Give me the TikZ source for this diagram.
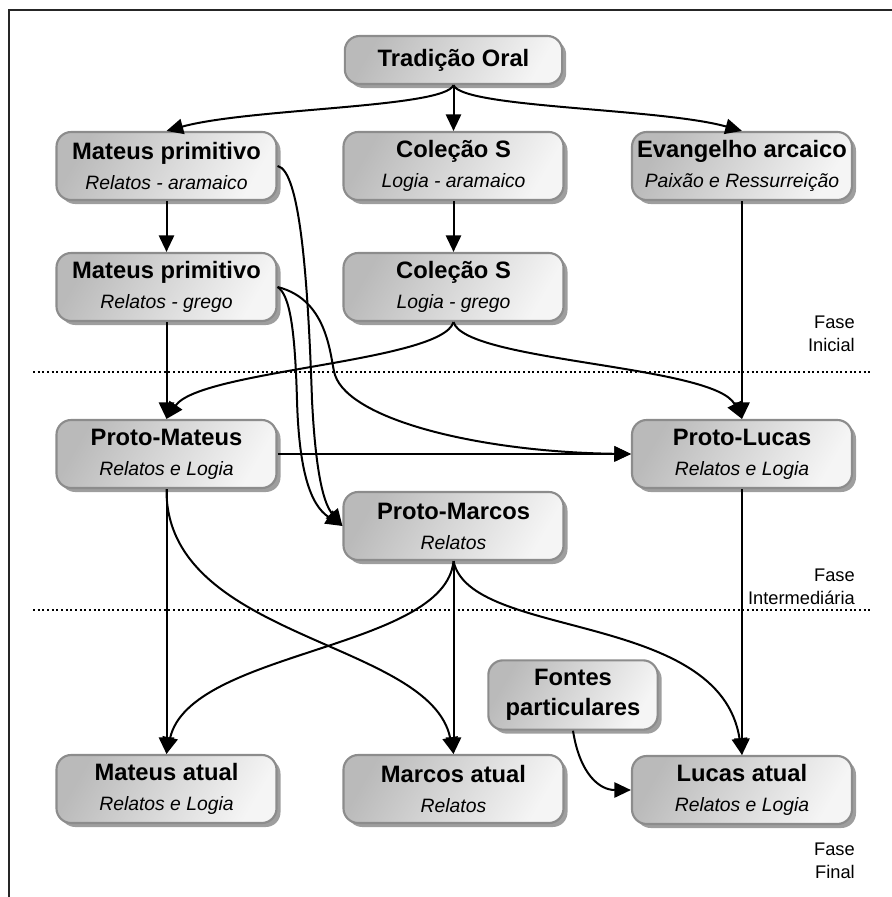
\documentclass[tikz,border=0pt]{standalone}
\usepackage{fontspec}
\setmainfont{Liberation Sans}
\usetikzlibrary{arrows.meta,shadows}
\newcommand\nttl[2]{{\fontsize{17.8}{22.5}\selectfont\bfseries #1}\\{\fontsize{14.5}{22.5}\selectfont\itshape #2}}
\tikzset{
  nbox/.style={draw=black!45, line width=1.6pt, rounded corners=11pt,
    minimum width=165pt, minimum height=51pt, align=center, inner sep=2pt,
    left color=black!27, right color=black!4, shading angle=60,
    drop shadow={shadow xshift=3pt, shadow yshift=-3pt, fill=black!38, opacity=1},
    font=\fontsize{14.5}{22.5}\selectfont},
  conn/.style={line width=1.5pt, -{Triangle[length=12.5pt,width=11.5pt]}},
  phase/.style={anchor=east, align=right, font=\fontsize{13.7}{17.5}\selectfont, inner sep=0pt},
  sep/.style={dotted, line width=1.5pt}
}
\begin{document}
\begin{tikzpicture}[x=0.75pt,y=-0.75pt]
\useasboundingbox (0,0) rectangle (892,897);
% frame
\draw[line width=2pt, black!85] (9,897) -- (9,10) -- (892,10);
% separators
\draw[sep] (33,372) -- (872,372);
\draw[sep] (33,610) -- (872,610);
% phase labels
\node[phase] (f1) at (855,334) {Fase\\Inicial};
\node[phase] (f2) at (855,587) {Fase\\Intermediária};
\node[phase] (f3) at (855,861) {Fase\\Final};
% nodes
\node[nbox, minimum width=163pt, minimum height=36pt] (trad) at (453.5,60) {\fontsize{17.8}{22}\selectfont\bfseries Tradição Oral};
\node[nbox] (mp1) at (166.5,166) {\nttl{Mateus primitivo}{Relatos - aramaico}};
\node[nbox] (cs1) at (453.5,166) {\nttl{Coleção S}{Logia - aramaico}};
\node[nbox] (ev) at (742,166) {\nttl{Evangelho arcaico}{Paixão e Ressurreição}};
\node[nbox] (mp2) at (166.5,287) {\nttl{Mateus primitivo}{Relatos - grego}};
\node[nbox] (cs2) at (453.5,287) {\nttl{Coleção S}{Logia - grego}};
\node[nbox] (pm) at (166.5,454) {\nttl{Proto-Mateus}{Relatos e Logia}};
\node[nbox] (pl) at (742,454) {\nttl{Proto-Lucas}{Relatos e Logia}};
\node[nbox] (pk) at (453.5,526) {\nttl{Proto-Marcos}{Relatos}};
\node[nbox, minimum width=127pt, minimum height=52pt, font=\fontsize{17.8}{22.5}\selectfont\bfseries] (fp) at (573,695) {Fontes\\particulares};
\node[nbox] (ma) at (166.5,789) {\nttl{Mateus atual}{Relatos e Logia}};
\node[nbox] (ka) at (453.5,789) {\nttl{Marcos atual}{Relatos}};
\node[nbox] (la) at (742,790) {\nttl{Lucas atual}{Relatos e Logia}};
% connectors
\draw[conn] (trad.south) .. controls (445,108) and (250,108) .. (mp1.north);
\draw[conn] (trad.south) -- (cs1.north);
\draw[conn] (trad.south) .. controls (462,108) and (660,108) .. (ev.north);
\draw[conn] (mp1.south) -- (mp2.north);
\draw[conn] (cs1.south) -- (cs2.north);
\draw[conn] (ev.south) -- (pl.north);
\draw[conn] (mp2.south) -- (pm.north);
\draw[conn] (cs2.south) .. controls (442,362) and (200,370) .. (pm.north);
\draw[conn] (cs2.south) .. controls (465,362) and (715,365) .. (pl.north);
\draw[conn] (mp1.east) .. controls (300,170) and (308,280) .. (312,400) .. controls (316,480) and (325,505) .. (pk.west);
\draw[conn] (mp2.east) .. controls (290,295) and (295,330) .. (297,400) .. controls (299,470) and (310,505) .. (pk.west);
\draw[conn] (mp2.east) .. controls (330,300) and (330,360) .. (335,375) .. controls (350,420) and (480,452) .. (pl.west);
\draw[conn] (pm.east) -- (pl.west);
\draw[conn] (pm.south) -- (ma.north);
\draw[conn] (pm.south) .. controls (165,640) and (430,640) .. (ka.north);
\draw[conn] (pk.south) .. controls (445,650) and (190,650) .. (ma.north);
\draw[conn] (pk.south) -- (ka.north);
\draw[conn] (pk.south) .. controls (470,640) and (720,610) .. (la.north);
\draw[conn] (pl.south) -- (la.north);
\draw[conn] (fp.south) .. controls (580,775) and (600,790) .. (la.west);
\end{tikzpicture}
\end{document}
